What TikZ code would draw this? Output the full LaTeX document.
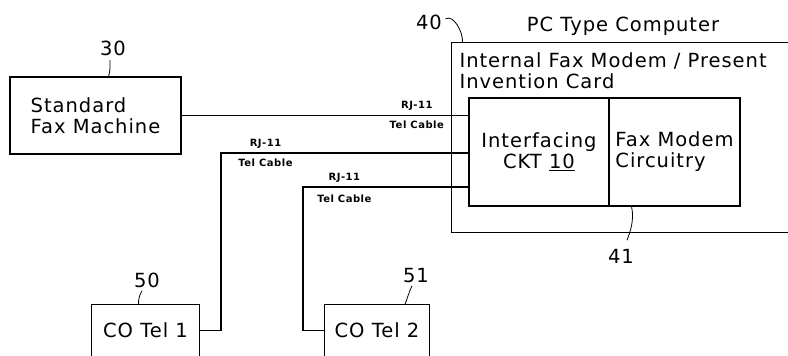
\documentclass[tikz,border=0pt]{standalone}
\usepackage{fontspec}
\setmainfont{DejaVu Sans}[LetterSpace=5]
\usetikzlibrary{positioning}

\begin{document}
\begin{tikzpicture}[x=1pt, y=-1pt, line width=1.1pt,
    every node/.style={inner sep=0pt, font=\fontsize{19.5}{21}\selectfont},
    unitbox/.style={draw, rectangle, inner sep=0pt},
    openbox/.style={rectangle, inner sep=0pt},
    cabletxt/.style={font=\bfseries\fontsize{10}{12}\selectfont},
    leader/.style={line width=0.8pt}]
    \useasboundingbox (0,0) rectangle (788,356);

    \node[unitbox, minimum width=171pt, minimum height=77pt, align=left] (fax) at (95.5,115.5) {Standard\\Fax Machine};
    \node[anchor=base] (n30) at (113,55) {30};
    \draw[leader] ([xshift=-3pt,yshift=-4pt]n30.south) .. controls +(0,6) and +(2,-6) .. ([xshift=13pt]fax.north);

    \node[openbox, minimum width=336pt, minimum height=189pt] (pc) at (620,137.5) {};
    \draw (pc.north east) -- (pc.north west) -- (pc.south west) -- (pc.south east);
    \node[anchor=base] (pctitle) at (623,31) {PC Type Computer};
    \node[anchor=base] (n40) at (429,30) {40};
    \draw[leader] ([xshift=3pt,yshift=4pt]n40.east) .. controls +(8,-5) and +(1,-10) .. ([xshift=11pt]pc.north west);
    \node[anchor=north west, align=left] (card) at (459,52) {Internal Fax Modem / Present\\Invention Card};

    \node[unitbox, minimum width=140pt, minimum height=108pt, align=center] (ckt) at (539,152) {Interfacing\\CKT \underline{10}};
    \node[unitbox, minimum width=131pt, minimum height=108pt, align=left] (modem) at (674.5,152) {Fax Modem\\Circuitry};
    \node[anchor=base] (n41) at (621,263) {41};
    \draw[leader] ([xshift=-109pt]modem.south east) .. controls +(3,14) and +(3,-8) .. ([xshift=6pt,yshift=8pt]n41.north);

    \node[openbox, minimum width=107pt, minimum height=51pt] (tel1) at (145.5,330.5) {CO Tel 1};
    \draw (tel1.south west) |- (tel1.north east) -- (tel1.south east);
    \node[anchor=base] (n50) at (147,287) {50};
    \draw[leader] ([xshift=-5pt,yshift=-3pt]n50.south) .. controls +(-3,5) and +(0,-5) .. ([xshift=-7pt]tel1.north);

    \node[openbox, minimum width=104pt, minimum height=51pt] (tel2) at (377,330.5) {CO Tel 2};
    \draw (tel2.south west) |- (tel2.north east) -- (tel2.south east);
    \node[anchor=base] (n51) at (416,282) {51};
    \draw[leader] ([xshift=-4pt,yshift=-3pt]n51.south) .. controls +(-3,6) and +(2,-5) .. ([xshift=28pt]tel2.north);

    \draw (fax.east) -- (fax.east -| ckt.west)
        node[cabletxt, pos=0.82, above=4pt] (rj1) {RJ-11}
        node[cabletxt, pos=0.82, below=5pt] (cab1) {Tel Cable};
    \coordinate (bend1) at (221,153);
    \draw (tel1.east) -| (bend1) -- (bend1 -| ckt.west)
        node[cabletxt, pos=0.18, above=4pt] (rj2) {RJ-11}
        node[cabletxt, pos=0.18, below=5pt] (cab2) {Tel Cable};
    \coordinate (bend2) at (303,187);
    \draw (tel2.west) -| (bend2) -- (bend2 -| ckt.west)
        node[cabletxt, pos=0.25, above=4pt] (rj3) {RJ-11}
        node[cabletxt, pos=0.25, below=7pt] (cab3) {Tel Cable};
  \end{tikzpicture}
\end{document}
